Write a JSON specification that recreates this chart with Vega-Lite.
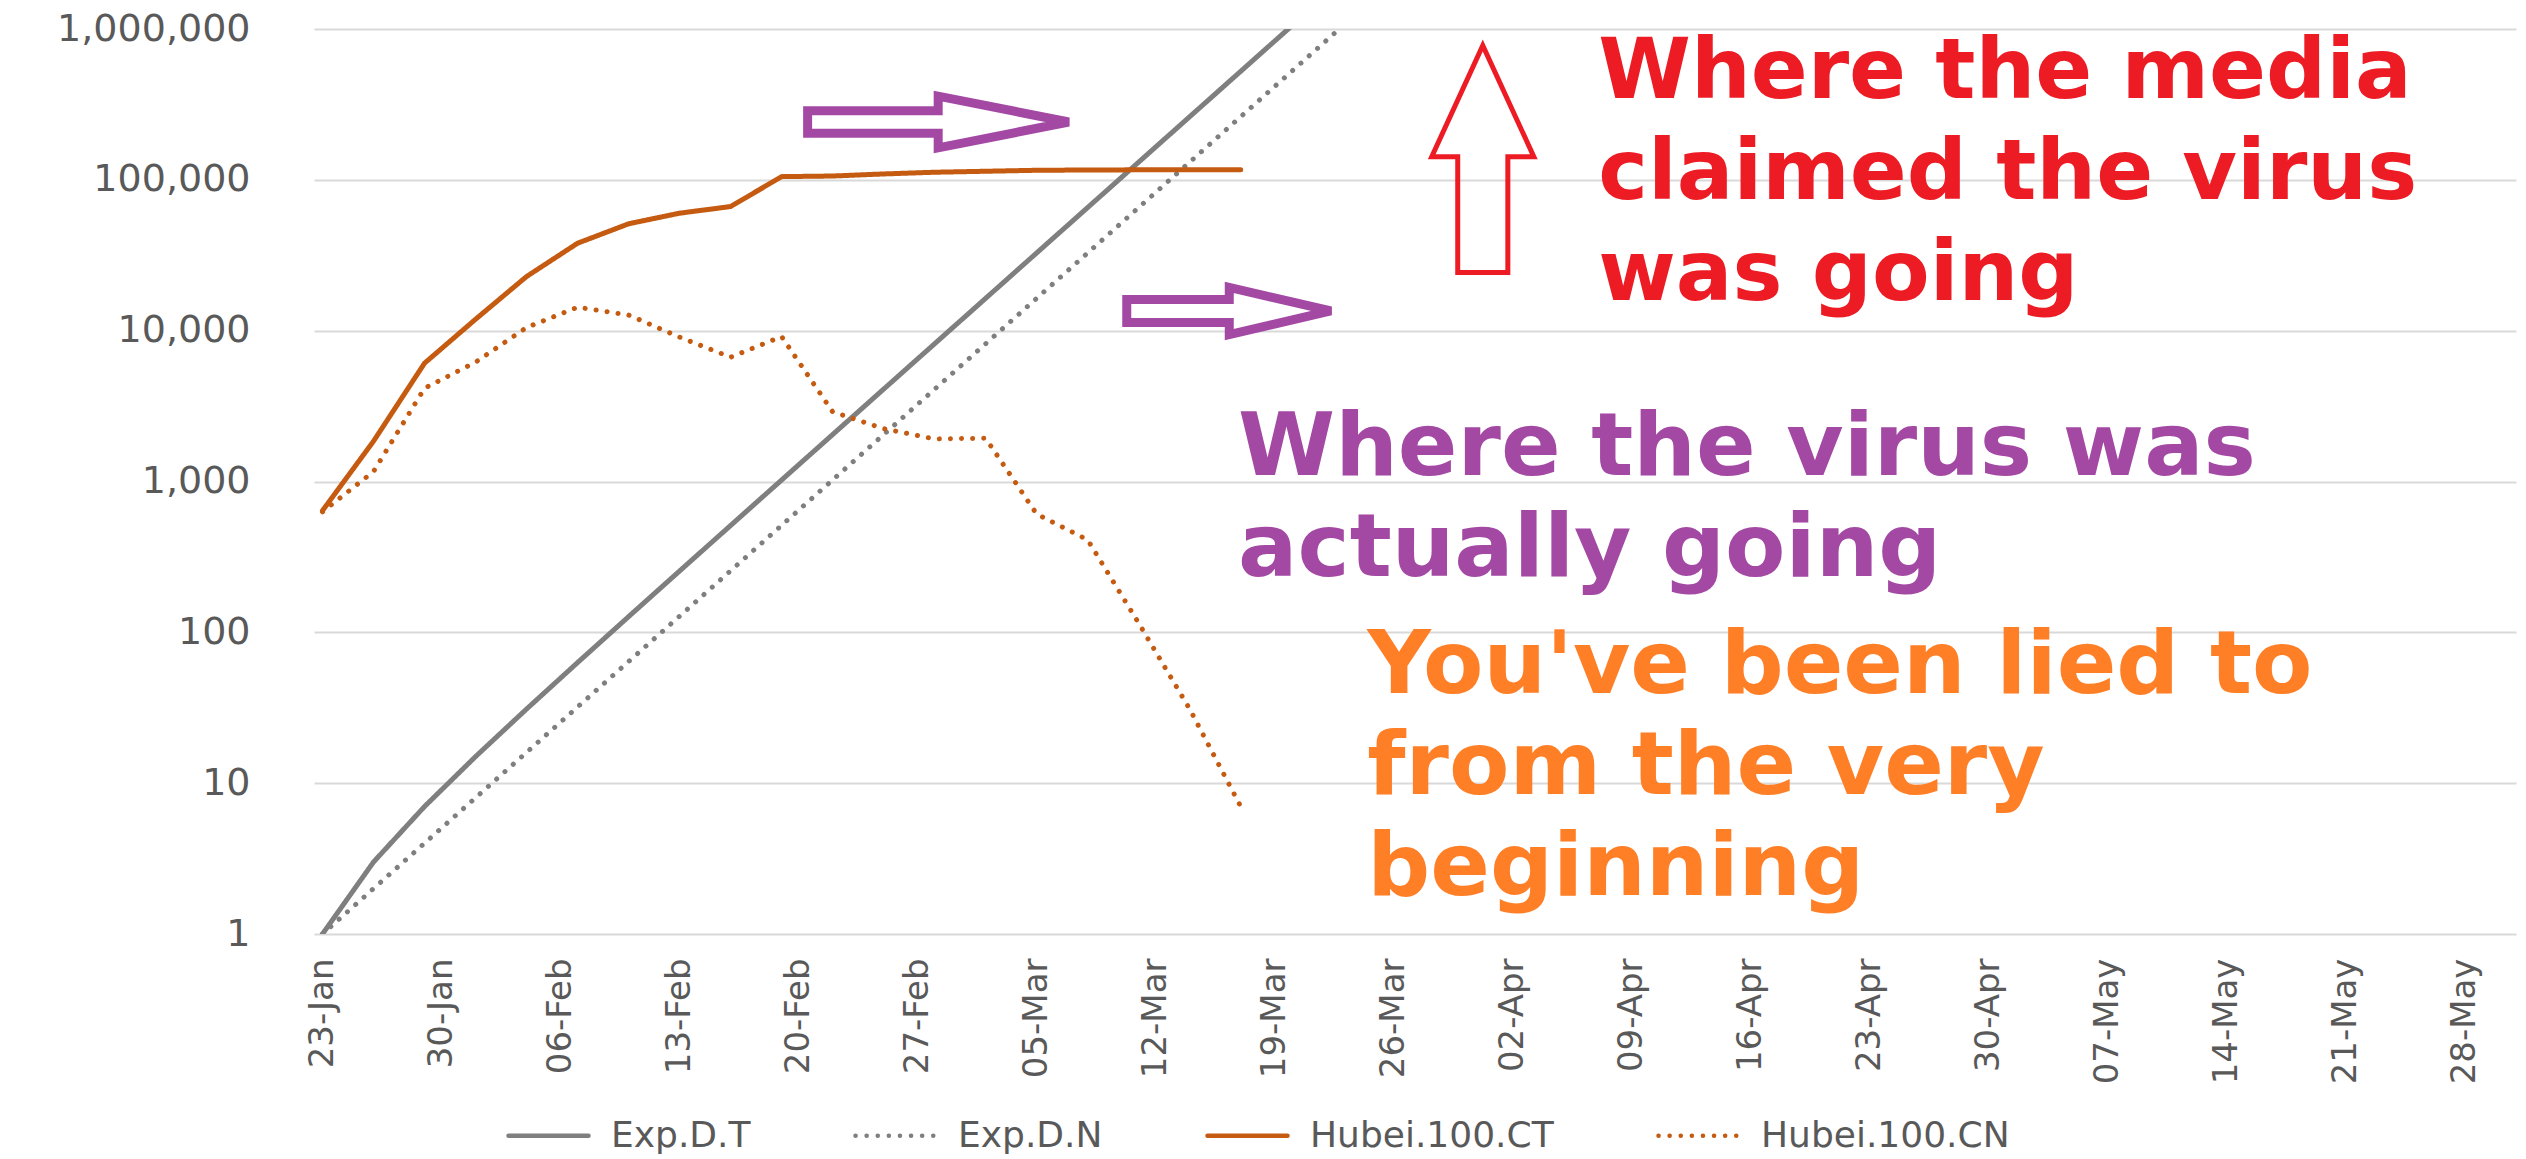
{
  "$schema": "https://vega.github.io/schema/vega-lite/v6.json",
  "width": 2202,
  "height": 905,
  "autosize": {"type": "none"},
  "padding": {"left": 314, "top": 29, "right": 10, "bottom": 225},
  "background": "white",
  "config": {"view": {"stroke": null}, "font": "DejaVu Sans"},
  "datasets": {
    "series": [
      {"series": "Exp.D.T", "date": "2020-01-23", "value": 1},
      {"series": "Exp.D.T", "date": "2020-01-26", "value": 3},
      {"series": "Exp.D.T", "date": "2020-01-29", "value": 7},
      {"series": "Exp.D.T", "date": "2020-02-01", "value": 15},
      {"series": "Exp.D.T", "date": "2020-02-04", "value": 31},
      {"series": "Exp.D.T", "date": "2020-02-07", "value": 63},
      {"series": "Exp.D.T", "date": "2020-02-10", "value": 127},
      {"series": "Exp.D.T", "date": "2020-02-13", "value": 255},
      {"series": "Exp.D.T", "date": "2020-02-16", "value": 511},
      {"series": "Exp.D.T", "date": "2020-02-19", "value": 1023},
      {"series": "Exp.D.T", "date": "2020-02-22", "value": 2047},
      {"series": "Exp.D.T", "date": "2020-02-25", "value": 4095},
      {"series": "Exp.D.T", "date": "2020-02-28", "value": 8191},
      {"series": "Exp.D.T", "date": "2020-03-02", "value": 16383},
      {"series": "Exp.D.T", "date": "2020-03-05", "value": 32767},
      {"series": "Exp.D.T", "date": "2020-03-08", "value": 65535},
      {"series": "Exp.D.T", "date": "2020-03-11", "value": 131071},
      {"series": "Exp.D.T", "date": "2020-03-14", "value": 262143},
      {"series": "Exp.D.T", "date": "2020-03-17", "value": 524287},
      {"series": "Exp.D.T", "date": "2020-03-20", "value": 1048575},
      {"series": "Exp.D.T", "date": "2020-03-23", "value": 2097151},
      {"series": "Exp.D.N", "date": "2020-01-23", "value": 1},
      {"series": "Exp.D.N", "date": "2020-01-26", "value": 2},
      {"series": "Exp.D.N", "date": "2020-01-29", "value": 4},
      {"series": "Exp.D.N", "date": "2020-02-01", "value": 8},
      {"series": "Exp.D.N", "date": "2020-02-04", "value": 16},
      {"series": "Exp.D.N", "date": "2020-02-07", "value": 32},
      {"series": "Exp.D.N", "date": "2020-02-10", "value": 64},
      {"series": "Exp.D.N", "date": "2020-02-13", "value": 128},
      {"series": "Exp.D.N", "date": "2020-02-16", "value": 256},
      {"series": "Exp.D.N", "date": "2020-02-19", "value": 512},
      {"series": "Exp.D.N", "date": "2020-02-22", "value": 1024},
      {"series": "Exp.D.N", "date": "2020-02-25", "value": 2048},
      {"series": "Exp.D.N", "date": "2020-02-28", "value": 4096},
      {"series": "Exp.D.N", "date": "2020-03-02", "value": 8192},
      {"series": "Exp.D.N", "date": "2020-03-05", "value": 16384},
      {"series": "Exp.D.N", "date": "2020-03-08", "value": 32768},
      {"series": "Exp.D.N", "date": "2020-03-11", "value": 65536},
      {"series": "Exp.D.N", "date": "2020-03-14", "value": 131072},
      {"series": "Exp.D.N", "date": "2020-03-17", "value": 262144},
      {"series": "Exp.D.N", "date": "2020-03-20", "value": 524288},
      {"series": "Exp.D.N", "date": "2020-03-23", "value": 1048576},
      {"series": "Exp.D.N", "date": "2020-03-26", "value": 2097152},
      {"series": "Hubei.100.CT", "date": "2020-01-23", "value": 641},
      {"series": "Hubei.100.CT", "date": "2020-01-26", "value": 1850},
      {"series": "Hubei.100.CT", "date": "2020-01-29", "value": 6085},
      {"series": "Hubei.100.CT", "date": "2020-02-01", "value": 11900},
      {"series": "Hubei.100.CT", "date": "2020-02-04", "value": 22850},
      {"series": "Hubei.100.CT", "date": "2020-02-07", "value": 38000},
      {"series": "Hubei.100.CT", "date": "2020-02-10", "value": 51100},
      {"series": "Hubei.100.CT", "date": "2020-02-13", "value": 60100},
      {"series": "Hubei.100.CT", "date": "2020-02-16", "value": 66500},
      {"series": "Hubei.100.CT", "date": "2020-02-19", "value": 105000},
      {"series": "Hubei.100.CT", "date": "2020-02-22", "value": 106000},
      {"series": "Hubei.100.CT", "date": "2020-02-25", "value": 109400},
      {"series": "Hubei.100.CT", "date": "2020-02-28", "value": 112300},
      {"series": "Hubei.100.CT", "date": "2020-03-02", "value": 114000},
      {"series": "Hubei.100.CT", "date": "2020-03-05", "value": 115700},
      {"series": "Hubei.100.CT", "date": "2020-03-08", "value": 116200},
      {"series": "Hubei.100.CT", "date": "2020-03-11", "value": 116500},
      {"series": "Hubei.100.CT", "date": "2020-03-14", "value": 116500},
      {"series": "Hubei.100.CT", "date": "2020-03-17", "value": 116500},
      {"series": "Hubei.100.CN", "date": "2020-01-23", "value": 630},
      {"series": "Hubei.100.CN", "date": "2020-01-26", "value": 1164},
      {"series": "Hubei.100.CN", "date": "2020-01-29", "value": 4150},
      {"series": "Hubei.100.CN", "date": "2020-02-01", "value": 6180},
      {"series": "Hubei.100.CN", "date": "2020-02-04", "value": 10500},
      {"series": "Hubei.100.CN", "date": "2020-02-07", "value": 14300},
      {"series": "Hubei.100.CN", "date": "2020-02-10", "value": 12700},
      {"series": "Hubei.100.CN", "date": "2020-02-13", "value": 9060},
      {"series": "Hubei.100.CN", "date": "2020-02-16", "value": 6670},
      {"series": "Hubei.100.CN", "date": "2020-02-19", "value": 9140},
      {"series": "Hubei.100.CN", "date": "2020-02-22", "value": 2900},
      {"series": "Hubei.100.CN", "date": "2020-02-25", "value": 2240},
      {"series": "Hubei.100.CN", "date": "2020-02-28", "value": 1915},
      {"series": "Hubei.100.CN", "date": "2020-03-02", "value": 1936},
      {"series": "Hubei.100.CN", "date": "2020-03-05", "value": 608},
      {"series": "Hubei.100.CN", "date": "2020-03-08", "value": 410},
      {"series": "Hubei.100.CN", "date": "2020-03-11", "value": 115},
      {"series": "Hubei.100.CN", "date": "2020-03-14", "value": 31},
      {"series": "Hubei.100.CN", "date": "2020-03-17", "value": 7}
    ]
  },
  "layer": [
    {
      "data": {"name": "series"},
      "mark": {"type": "line", "strokeWidth": 5, "strokeCap": "round", "strokeJoin": "round", "clip": true},
      "encoding": {
        "x": {
          "field": "date", "type": "temporal",
          "scale": {"type": "utc", "domain": [{"year": 2020, "month": 1, "date": 22, "hours": 12, "utc": true}, {"year": 2020, "month": 5, "date": 31, "utc": true}]},
          "axis": {
            "title": null, "grid": false, "ticks": false, "domain": false,
            "values": [
              {"year": 2020, "month": 1, "date": 23, "utc": true},
              {"year": 2020, "month": 1, "date": 30, "utc": true},
              {"year": 2020, "month": 2, "date": 6, "utc": true},
              {"year": 2020, "month": 2, "date": 13, "utc": true},
              {"year": 2020, "month": 2, "date": 20, "utc": true},
              {"year": 2020, "month": 2, "date": 27, "utc": true},
              {"year": 2020, "month": 3, "date": 5, "utc": true},
              {"year": 2020, "month": 3, "date": 12, "utc": true},
              {"year": 2020, "month": 3, "date": 19, "utc": true},
              {"year": 2020, "month": 3, "date": 26, "utc": true},
              {"year": 2020, "month": 4, "date": 2, "utc": true},
              {"year": 2020, "month": 4, "date": 9, "utc": true},
              {"year": 2020, "month": 4, "date": 16, "utc": true},
              {"year": 2020, "month": 4, "date": 23, "utc": true},
              {"year": 2020, "month": 4, "date": 30, "utc": true},
              {"year": 2020, "month": 5, "date": 7, "utc": true},
              {"year": 2020, "month": 5, "date": 14, "utc": true},
              {"year": 2020, "month": 5, "date": 21, "utc": true},
              {"year": 2020, "month": 5, "date": 28, "utc": true}
            ],
            "labelExpr": "utcFormat(datum.value, '%d-%b')",
            "labelAngle": -90, "labelFontSize": 34, "labelFont": "DejaVu Sans", "labelColor": "#595959",
            "labelPadding": 24, "labelOverlap": false, "labelFlush": false, "labelBound": false, "labelLimit": 0
          }
        },
        "y": {
          "field": "value", "type": "quantitative",
          "scale": {"type": "log", "domain": [1, 1000000], "nice": false},
          "axis": {
            "title": null, "ticks": false, "domain": false, "grid": true, "gridColor": "#D9D9D9", "gridWidth": 2,
            "values": [1, 10, 100, 1000, 10000, 100000, 1000000],
            "format": ",d", "labelFontSize": 38, "labelFont": "DejaVu Sans", "labelColor": "#595959",
            "labelPadding": 64, "labelOverlap": false, "labelFlush": false, "labelBound": false, "labelLimit": 0
          }
        },
        "color": {
          "field": "series", "type": "nominal",
          "scale": {"domain": ["Exp.D.T", "Exp.D.N", "Hubei.100.CT", "Hubei.100.CN"], "range": ["#7F7F7F", "#7F7F7F", "#C55A11", "#C55A11"]},
          "legend": {
            "title": null, "orient": "none", "legendX": 192, "legendY": 1064, "direction": "horizontal", "columns": 4,
            "symbolType": "stroke", "symbolSize": 6400, "symbolStrokeWidth": 4.5,
            "labelFontSize": 36, "labelFont": "DejaVu Sans", "labelColor": "#595959", "labelOffset": 20,
            "columnPadding": 95, "labelLimit": 0, "padding": 0,
            "encode": {"symbols": {"update": {"strokeCap": {"value": "round"}}}}
          }
        },
        "strokeDash": {
          "field": "series", "type": "nominal",
          "scale": {"domain": ["Exp.D.T", "Exp.D.N", "Hubei.100.CT", "Hubei.100.CN"], "range": [[1, 0], [0.1, 11], [1, 0], [0.1, 11]]},
          "legend": {
            "title": null, "orient": "none", "legendX": 192, "legendY": 1064, "direction": "horizontal", "columns": 4,
            "symbolType": "stroke", "symbolSize": 6400, "symbolStrokeWidth": 4.5,
            "labelFontSize": 36, "labelFont": "DejaVu Sans", "labelColor": "#595959", "labelOffset": 20,
            "columnPadding": 95, "labelLimit": 0, "padding": 0,
            "encode": {"symbols": {"update": {"strokeCap": {"value": "round"}}}}
          }
        }
      }
    },
    {
      "data": {"values": [{"x": "2020-02-28T05:00:00Z", "y": 241800}]},
      "mark": {"type": "point", "shape": "M-0.96,-0.083 L0,-0.083 L0,-0.19 L0.96,0 L0,0.19 L0,0.083 L-0.96,0.083 Z", "size": 73984, "filled": false, "color": "#A349A4", "strokeWidth": 9, "opacity": 1, "strokeJoin": "miter"},
      "encoding": {"x": {"field": "x", "type": "temporal"}, "y": {"field": "y", "type": "quantitative"}}
    },
    {
      "data": {"values": [{"x": "2020-03-16T07:50:00Z", "y": 13505}]},
      "mark": {"type": "point", "shape": "M-0.958,-0.107 L0,-0.107 L0,-0.22 L0.95,0 L0,0.22 L0,0.107 L-0.958,0.107 Z", "size": 45796, "filled": false, "color": "#A349A4", "strokeWidth": 9, "opacity": 1, "strokeJoin": "miter"},
      "encoding": {"x": {"field": "x", "type": "temporal"}, "y": {"field": "y", "type": "quantitative"}}
    },
    {
      "data": {"values": [{"x": "2020-03-31T05:40:00Z", "y": 137500}]},
      "mark": {"type": "point", "shape": "M0,-0.978 L0.44,-0.02 L0.216,-0.02 L0.216,0.978 L-0.216,0.978 L-0.216,-0.02 L-0.44,-0.02 Z", "size": 53824, "filled": false, "color": "#ED1C24", "strokeWidth": 5, "opacity": 1, "strokeJoin": "miter"},
      "encoding": {"x": {"field": "x", "type": "temporal"}, "y": {"field": "y", "type": "quantitative"}}
    },
    {
      "data": {"values": [{"x": "2020-04-07T00:40:00Z", "y": 348800, "lines": ["Where the media", "claimed the virus", "was going"]}]},
      "mark": {"type": "text", "align": "left", "baseline": "alphabetic", "font": "DejaVu Sans", "fontWeight": "bold", "fontSize": 84, "lineHeight": 101, "color": "#ED1C24"},
      "encoding": {"x": {"field": "x", "type": "temporal"}, "y": {"field": "y", "type": "quantitative"}, "text": {"field": "lines", "type": "nominal"}}
    },
    {
      "data": {"values": [{"x": "2020-03-16T20:20:00Z", "y": 1104, "lines": ["Where the virus was", "actually going"]}]},
      "mark": {"type": "text", "align": "left", "baseline": "alphabetic", "font": "DejaVu Sans", "fontWeight": "bold", "fontSize": 88, "lineHeight": 101, "color": "#A349A4"},
      "encoding": {"x": {"field": "x", "type": "temporal"}, "y": {"field": "y", "type": "quantitative"}, "text": {"field": "lines", "type": "nominal"}}
    },
    {
      "data": {"values": [{"x": "2020-03-24T10:40:00Z", "y": 39.6, "lines": ["You've been lied to", "from the very", "beginning"]}]},
      "mark": {"type": "text", "align": "left", "baseline": "alphabetic", "font": "DejaVu Sans", "fontWeight": "bold", "fontSize": 88, "lineHeight": 101, "color": "#FF7F27"},
      "encoding": {"x": {"field": "x", "type": "temporal"}, "y": {"field": "y", "type": "quantitative"}, "text": {"field": "lines", "type": "nominal"}}
    }
  ]
}
